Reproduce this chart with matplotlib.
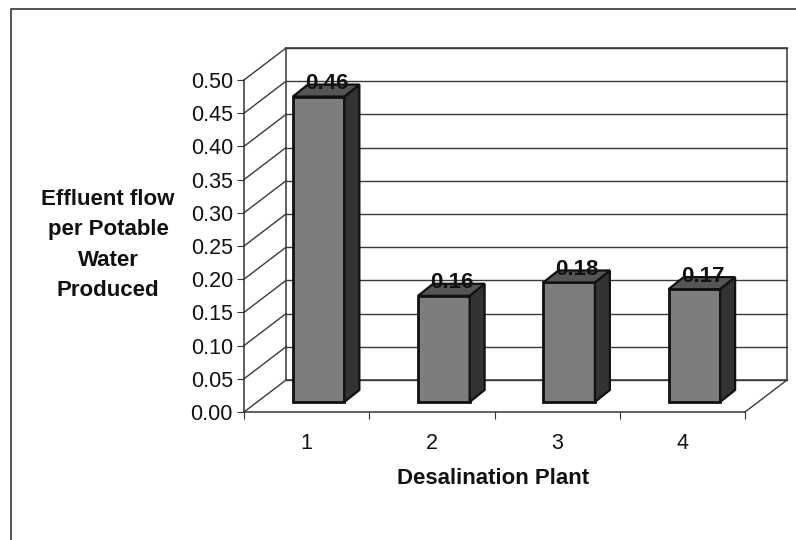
import matplotlib
matplotlib.use("Agg")
import matplotlib.pyplot as plt
from matplotlib.patches import Polygon, Rectangle

plt.rcParams['font.family'] = ['Liberation Sans', 'DejaVu Sans']

plants = [1, 2, 3, 4]
values = [0.46, 0.16, 0.18, 0.17]
value_labels = ['0.46', '0.16', '0.18', '0.17']
y_ticks = [0.00, 0.05, 0.10, 0.15, 0.20, 0.25, 0.30, 0.35, 0.40, 0.45, 0.50]
x_label = 'Desalination Plant'
y_label = 'Effluent flow\nper Potable\nWater\nProduced'

W, H = 796, 540
fig = plt.figure(figsize=(W / 100, H / 100), dpi=100, facecolor='white')
L, R, T, B = 244, 745, 80, 412
ax = fig.add_axes([L / W, 1 - B / H, (R - L) / W, (B - T) / H])
ax.set_xlim(0.5, 4.5)
ax.set_ylim(0, 0.5)
ax.patch.set_alpha(0)

px = (R - L) / 4            # pixels per category
py = (B - T) / 0.5          # pixels per unit of value
wall_dx, wall_dy = 42 / px, 32 / py
bar_dx, bar_dy = 15 / px, 12 / py
base_x, base_y = 12 / px, 10 / py
bar_w = 51.5 / px

line_col = '#3a3a3a'
# Chart frame: only its top and left edges show in the picture
fig.add_artist(plt.Line2D([11 / W, 11 / W, 1], [0, 1 - 9 / H, 1 - 9 / H], transform=fig.transFigure,
                          color='#444444', lw=1.3))

# Back wall, floor and gridlines
ax.add_patch(Rectangle((0.5 + wall_dx, wall_dy), 4, 0.5, fill=False, ec='#555555', lw=1.3,
                       clip_on=False, zorder=1))
for t in y_ticks:
    ax.plot([0.5, 0.5 + wall_dx], [t, t + wall_dy], color=line_col, lw=1.0, clip_on=False, zorder=1)
    ax.plot([0.5 + wall_dx, 4.5 + wall_dx], [t + wall_dy, t + wall_dy], color=line_col, lw=1.0,
            clip_on=False, zorder=1)
ax.plot([4.5, 4.5 + wall_dx], [0, wall_dy], color=line_col, lw=1.0, clip_on=False, zorder=1)

# Bars: front, side and top faces
for x, v, s in zip(plants, values, value_labels):
    x0 = x - bar_w / 2 + base_x
    x1 = x + bar_w / 2 + base_x
    y0, y1 = base_y, v + base_y
    ax.bar(x + base_x, v, bar_w, bottom=base_y, color='#7d7d7d', edgecolor='#111111', lw=2,
           clip_on=False, zorder=3)
    ax.add_patch(Polygon([(x1, y0), (x1 + bar_dx, y0 + bar_dy), (x1 + bar_dx, y1 + bar_dy), (x1, y1)],
                         fc='#333333', ec='#111111', lw=1.6, clip_on=False, zorder=3))
    ax.add_patch(Polygon([(x0, y1), (x1, y1), (x1 + bar_dx, y1 + bar_dy), (x0 + bar_dx, y1 + bar_dy)],
                         fc='#555555', ec='#111111', lw=1.6, clip_on=False, zorder=3))
    ax.text(x + base_x + 8 / px, y1 + 13 / py, s, ha='center', va='center', fontsize=16,
            fontweight='bold', color='#111111', zorder=4)

# Axes
for s in ('top', 'right'):
    ax.spines[s].set_visible(False)
for s in ('left', 'bottom'):
    ax.spines[s].set_color('#333333')
    ax.spines[s].set_linewidth(1.1)
ax.set_yticks(y_ticks)
ax.set_yticklabels([f'{t:.2f}' for t in y_ticks], fontsize=15.5, color='#111111')
ax.set_xticks([0.5, 1.5, 2.5, 3.5, 4.5])
ax.set_xticklabels([])
ax.set_xticks(plants, minor=True)
ax.set_xticklabels([str(p) for p in plants], minor=True, fontsize=15.5, color='#111111')
ax.tick_params(axis='x', which='minor', length=0, pad=15)
ax.tick_params(axis='x', which='major', length=5, color='#333333')
ax.tick_params(axis='y', length=5, pad=3, color='#333333')

fig.text(493 / W, 1 - 479 / H, x_label, ha='center', va='center', fontsize=16, fontweight='bold', color='#111111')
fig.text(108 / W, 1 - 245 / H, y_label, ha='center', va='center', fontsize=16, fontweight='bold',
         color='#111111', linespacing=1.6)

fig.savefig('out.png', dpi=100)
